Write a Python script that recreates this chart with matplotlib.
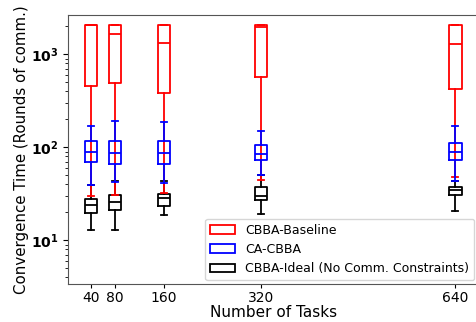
import matplotlib.pyplot as plt
from matplotlib.patches import Patch

# Number of tasks (box positions on a linear axis).
tasks = [40, 80, 160, 320, 640]

# Box statistics per method: lower whisker, Q1, median, Q3, upper whisker.
base_lo  = [30, 31, 32.5, 45, 48]
base_q1  = [460, 495, 382, 575, 425]
base_med = [2050, 1652, 1313, 1950, 1279]
base_q3  = [2050, 2050, 2050, 2050, 2050]
base_hi  = [2050, 2050, 2050, 2050, 2050]

ca_lo  = [39.6, 42.7, 41.9, 50.7, 44]
ca_q1  = [70.5, 66.5, 66.5, 73.5, 73.5]
ca_med = [90, 86.7, 87, 85, 90]
ca_q3  = [117.5, 117, 118, 106, 112.5]
ca_hi  = [170, 194, 189, 151, 171]

ideal_lo  = [12.8, 12.8, 18.9, 19.3, 20.8]
ideal_q1  = [19.7, 21.3, 23.2, 27.4, 30.9]
ideal_med = [24.2, 26.2, 28.5, 29.7, 35]
ideal_q3  = [27.8, 30.9, 31.5, 37.9, 37.4]
ideal_hi  = [39.6, 44, 43, 50, 44]

def stats(lo, q1, med, q3, hi):
  return [dict(whislo=a, q1=b, med=c, q3=d, whishi=e, fliers=[])
          for a, b, c, d, e in zip(lo, q1, med, q3, hi)]

series = [
  ('CBBA-Baseline', 'red', 2, stats(base_lo, base_q1, base_med, base_q3, base_hi)),
  ('CA-CBBA', 'blue', 3, stats(ca_lo, ca_q1, ca_med, ca_q3, ca_hi)),
  ('CBBA-Ideal (No Comm. Constraints)', 'black', 1, stats(ideal_lo, ideal_q1, ideal_med, ideal_q3, ideal_hi)),
]

# Start figure.
fig = plt.figure(figsize=(4.77, 3.22), dpi=100)
ax  = fig.add_axes([0.1426, 0.118, 0.86, 0.835])

handles = []
for label, col, z, st in series:
  lp = dict(color=col, lw=1.3)
  ax.bxp(st, positions=tasks, widths=20, showfliers=False,
         boxprops=lp, whiskerprops=lp, capprops=lp, medianprops=lp,
         manage_ticks=False, zorder=z)
  handles.append(Patch(facecolor='none', edgecolor=col, lw=1.3, label=label))

# Add details.
ax.set_yscale('log')
ax.set_ylim(3.4, 2640)
ax.set_xlim(2.5, 677.5)
ax.set_xticks(tasks)
ax.set_xticklabels([str(t) for t in tasks], fontsize=10)
ax.tick_params(axis='x', length=3, pad=2)
ax.tick_params(axis='y', labelsize=10)
for t in ax.get_yticklabels():
  t.set_fontweight('bold')
ax.set_xlabel('Number of Tasks', fontsize=11, labelpad=0)
ax.set_ylabel('Convergence Time (Rounds of comm.)', fontsize=10.8, labelpad=1)
for s in ax.spines.values():
  s.set_color('#555555')
ax.spines['right'].set_visible(False)
ax.legend(handles=handles, loc='lower right', fontsize=9, borderaxespad=0.3)

# Save figure.
fig.savefig('out.png', dpi=100)
plt.close()
